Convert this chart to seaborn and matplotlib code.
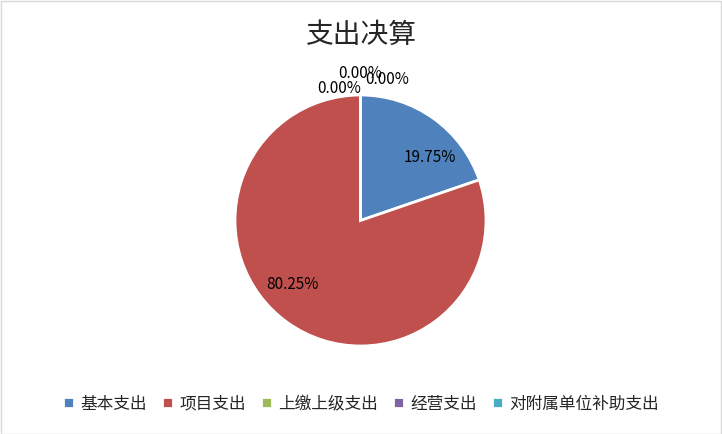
import matplotlib
matplotlib.use("Agg")
import matplotlib.pyplot as plt
import seaborn as sns

sns.set_theme(style="white")
plt.rcParams['font.family'] = ['Noto Sans CJK SC', 'DejaVu Sans']

# data
categories = ["基本支出", "项目支出", "上缴上级支出", "经营支出", "对附属单位补助支出"]
shares = [19.75, 80.25, 0.0, 0.0, 0.0]
colors = ["#4F81BD", "#C0504D", "#9BBB59", "#8064A2", "#4BACC6"]
# label spots (data units of the unit-radius pie)
label_pos = [(0.55, 0.50), (-0.54, -0.51), (-0.17, 1.05), (0.0, 1.17), (0.21, 1.12)]

fig = plt.figure(figsize=(7.22, 4.34), dpi=100)
ax = fig.add_axes([235 / 722, 88 / 434, 251 / 722, 251 / 434])

wedges, _ = ax.pie(shares, colors=colors, startangle=90, counterclock=False,
                   radius=1, wedgeprops=dict(edgecolor="white", linewidth=2))
ax.set_xlim(-1, 1)
ax.set_ylim(-1, 1)
ax.set_aspect("equal")
ax.axis("off")

for (x, y), v in zip(label_pos, shares):
    ax.text(x, y, "%.2f%%" % v, ha="center", va="center", fontsize=11, color="black")

fig.text(0.5, 1 - 35 / 434, "支出决算", ha="center", va="center", fontsize=20)

fig.legend(wedges, categories, loc="center", bbox_to_anchor=(0.5, 1 - 404 / 434),
           ncol=5, frameon=False, fontsize=12, handlelength=0.65, handleheight=0.65,
           handletextpad=0.4, columnspacing=0.9)

fig.patches.append(plt.Rectangle((0.001, 0.001), 0.997, 0.997, transform=fig.transFigure,
                                 fill=False, edgecolor="#D9D9D9", linewidth=1))

fig.savefig("out.png", dpi=100)
